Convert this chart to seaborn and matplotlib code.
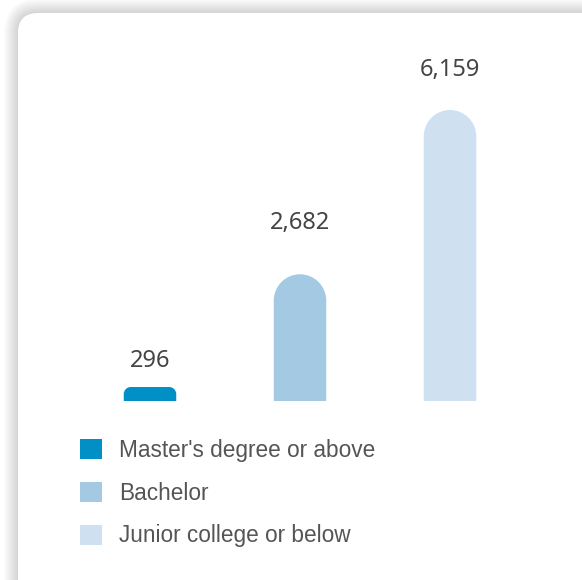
import numpy as np
import pandas as pd
import matplotlib
matplotlib.use("Agg")
import matplotlib.pyplot as plt
import seaborn as sns
from matplotlib.patches import FancyBboxPatch, Patch, PathPatch
from matplotlib.path import Path
from matplotlib.transforms import IdentityTransform

# data
categories = ["Master's degree or above", "Bachelor", "Junior college or below"]
counts = [296, 2682, 6159]
colors = ["#0090c6", "#a3c9e3", "#cfe1f0"]

# gap between bar top and label baseline, in pixels (as in the original)
label_gap = [20, 45, 34]

W, H = 582, 580
sns.set_theme(style="white")

fig = plt.figure(figsize=(W / 100, H / 100), dpi=100)
fig.patch.set_facecolor("white")

# card with a soft shadow (pixel coords, origin bottom-left)
card_x, card_top = 18, H - 13
for i in range(14, 0, -1):
    sh = FancyBboxPatch((card_x - i, -60), 700, card_top + 60 + i,
                        boxstyle="round,pad=0,rounding_size=%d" % (20 + i),
                        transform=IdentityTransform(), facecolor="black",
                        edgecolor="none", alpha=0.012, zorder=-10)
    fig.patches.append(sh)
card = FancyBboxPatch((card_x, -60), 700, card_top + 60,
                      boxstyle="round,pad=0,rounding_size=20",
                      transform=IdentityTransform(), facecolor="white",
                      edgecolor="none", zorder=-9)
fig.patches.append(card)

# axes placed in pixels: x 75..525, baseline at y=401 from top
ax_left, ax_right = 75, 525
ax_bottom, ax_top = 401, 40
ax = fig.add_axes([ax_left / W, (H - ax_bottom) / H,
                   (ax_right - ax_left) / W, (ax_bottom - ax_top) / H])
ax.patch.set_alpha(0)
ax.set_zorder(5)

df = pd.DataFrame({"level": categories, "count": counts})
sns.barplot(data=df, x="level", y="count", hue="level", palette=colors,
            width=0.35, saturation=1, legend=False, ax=ax)
ax.set_xlim(-0.5, 2.5)
ax.set_ylim(0, max(counts) * (ax_bottom - ax_top) / 291)
ax.set_axis_off()

fig.canvas.draw()
# replace rectangles with round-topped shapes
for p, v, gap in zip(ax.patches, counts, label_gap):
    bb = p.get_window_extent()
    x0, x1, y0, y1 = bb.x0, bb.x1, bb.y0, bb.y1
    r = min((x1 - x0) / 2, (y1 - y0) / 2)
    k = 0.5523 * r
    verts = [(x0, y0), (x0, y1 - r),
             (x0, y1 - r + k), (x0 + r - k, y1), (x0 + r, y1),
             (x1 - r, y1),
             (x1 - r + k, y1), (x1, y1 - r + k), (x1, y1 - r),
             (x1, y0), (x0, y0)]
    codes = [Path.MOVETO, Path.LINETO,
             Path.CURVE4, Path.CURVE4, Path.CURVE4,
             Path.LINETO,
             Path.CURVE4, Path.CURVE4, Path.CURVE4,
             Path.LINETO, Path.CLOSEPOLY]
    pp = PathPatch(Path(verts, codes), facecolor=p.get_facecolor(),
                   edgecolor="none", transform=IdentityTransform(), zorder=3)
    fig.patches.append(pp)
    p.set_visible(False)
    ax.annotate(f"{v:,}", xy=(p.get_x() + p.get_width() / 2, v),
                xytext=(0, gap * 0.72), textcoords="offset points",
                ha="center", va="baseline", fontsize=17,
                family=["Noto Sans", "DejaVu Sans"], color="#444444")

handles = [Patch(facecolor=c, edgecolor="none") for c in colors]
fig.legend(handles, categories, loc="upper left",
           bbox_to_anchor=(80 / W, 1 - 439 / H), frameon=False,
           prop={"family": "Liberation Sans", "size": 16.3},
           labelcolor="#555555", handlelength=0.98, handleheight=0.98,
           handletextpad=0.74, labelspacing=0.87, borderpad=0,
           borderaxespad=0)

fig.savefig("out.png", dpi=100)
